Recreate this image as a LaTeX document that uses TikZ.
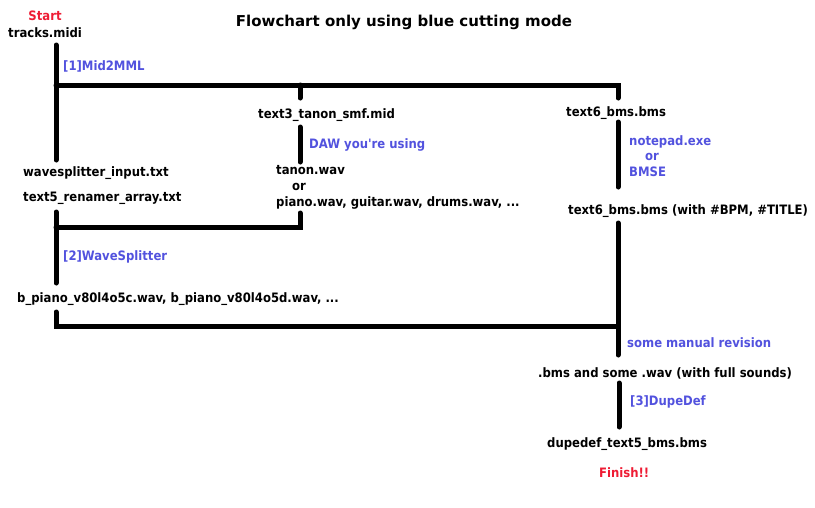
\documentclass[tikz,border=0pt]{standalone}
\usepackage{fontspec}
\setmainfont{DejaVu Sans}
\newfontfamily\condfont{DejaVu Sans Condensed}
\definecolor{toolblue}{RGB}{82,82,222}
\definecolor{startred}{RGB}{238,28,52}
\begin{document}
\begin{tikzpicture}[x=1pt,y=-1pt,
  lbl/.style={font=\condfont\bfseries\fontsize{12.95}{14}\selectfont, inner sep=0pt, anchor=west},
  tool/.style={lbl, text=toolblue},
  flow/.style={line width=5pt, line cap=round, line join=miter}]
\useasboundingbox (0,0) rectangle (815,507);

% title
\node[font=\bfseries\fontsize{15}{17}\selectfont, inner sep=0pt] (title) at (404,22) {Flowchart only using blue cutting mode};

% texts, left column
\node[lbl, anchor=center, text=startred] (start) at (45,16) {Start};
\node[lbl] (midi) at (8,33) {tracks.midi};
\node[tool] (mid2mml) at (63,66) {[1]Mid2MML};
\node[lbl] (wsin) at (23,173) {wavesplitter\_input.txt};
\node[lbl] (renamer) at (23,198) {text5\_renamer\_array.txt};
\node[tool] (wsplit) at (63,257) {[2]WaveSplitter};
\node[lbl] (bpiano) at (17,299) {b\_piano\_v80l4o5c.wav, b\_piano\_v80l4o5d.wav, ...};

% middle column
\node[lbl] (smf) at (258,115) {text3\_tanon\_smf.mid};
\node[tool] (daw) at (309,145) {DAW you{\char"27}re using};
\node[lbl] (tanon) at (276,170) {tanon.wav};
\node[lbl] (or1) at (292,187) {or};
\node[lbl] (pianowav) at (276,203) {piano.wav, guitar.wav, drums.wav, ...};

% right column
\node[lbl] (bms1) at (566,113) {text6\_bms.bms};
\node[tool] (notepad) at (629,142) {notepad.exe};
\node[tool] (or2) at (645,157) {or};
\node[tool] (bmse) at (629,172) {BMSE};
\node[lbl] (bms2) at (568,211) {text6\_bms.bms (with \#BPM, \#TITLE)};
\node[tool] (manual) at (627,343) {some manual revision};
\node[lbl] (full) at (538,373) {.bms and some .wav (with full sounds)};
\node[tool] (dupedef) at (630,402) {[3]DupeDef};
\node[lbl] (final) at (547,444) {dupedef\_text5\_bms.bms};
\node[lbl, text=startred] (finish) at (599,473) {Finish!!};

% connector end points
\coordinate (m1a) at (56,45);
\coordinate (m1b) at (56,160);
\coordinate (h1l) at (56,85);
\coordinate (h1m) at (300,85);
\coordinate (h1r) at (618,85);
\coordinate (h1rd) at (618,98);
\coordinate (h1md) at (300,98);
\coordinate (dawa) at (300,127);
\coordinate (dawb) at (300,162);
\coordinate (wava) at (300,213);
\coordinate (wavc) at (300,227);
\coordinate (wavl) at (56,227);
\coordinate (ws1) at (56,212);
\coordinate (ws2) at (56,283);
\coordinate (bp1) at (56,312);
\coordinate (bp2) at (56,326);
\coordinate (bp3) at (618,326);
\coordinate (np1) at (618,122);
\coordinate (np2) at (618,187);
\coordinate (mr1) at (618,223);
\coordinate (mr2) at (618,355);
\coordinate (dd1) at (619,383);
\coordinate (dd2) at (619,427);

% connectors
\draw[flow] (m1a) -- (m1b);
\draw[flow] (h1l) -- (h1r) -- (h1rd);
\draw[flow] (h1m) -- (h1md);
\draw[flow] (dawa) -- (dawb);
\draw[flow] (wava) -- (wavc) -- (wavl);
\draw[flow] (ws1) -- (ws2);
\draw[flow] (bp1) -- (bp2) -- (bp3);
\draw[flow] (np1) -- (np2);
\draw[flow] (mr1) -- (mr2);
\draw[flow] (dd1) -- (dd2);
\end{tikzpicture}
\end{document}
